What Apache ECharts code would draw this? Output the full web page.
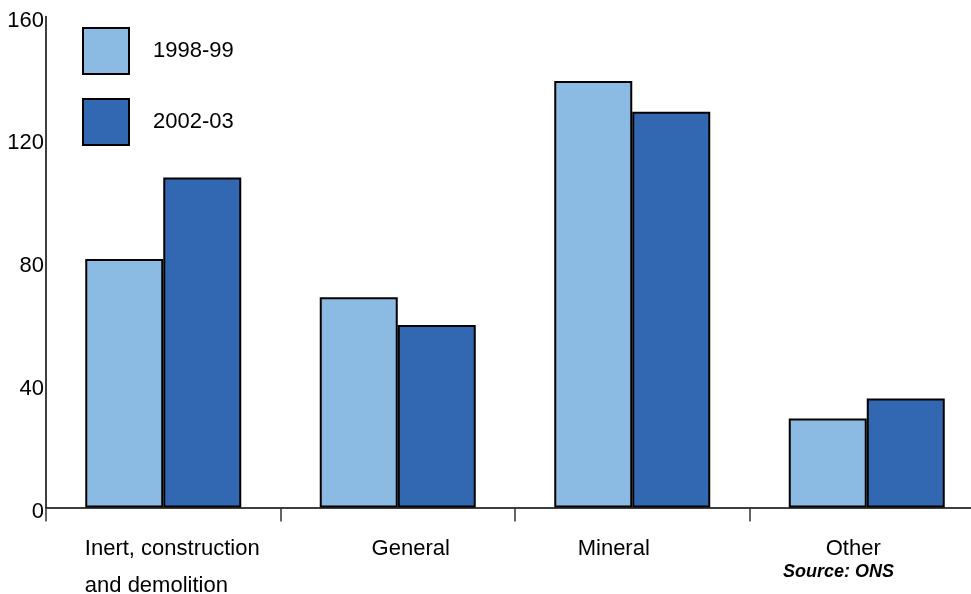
<!DOCTYPE html>
<html>
<head>
<meta charset="utf-8">
<script src="https://cdn.jsdelivr.net/npm/echarts@6/dist/echarts.min.js"></script>
<style>
  html, body { margin: 0; padding: 0; background: #ffffff; }
  #chart { width: 971px; height: 594px; }
</style>
</head>
<body>
<div id="chart"></div>
<script>
// Waste categories and the two survey periods
const categories = ['Inert, construction and demolition', 'General', 'Mineral', 'Other'];
const periods = ['1998-99', '2002-03'];
const values9899 = [81, 68.5, 139, 29];
const values0203 = [107.5, 59.5, 129, 35.5];
const yTicks = [0, 40, 80, 120, 160];
const sourceNote = 'Source: ONS';

const FONT = 'Liberation Sans, Arial, Helvetica, sans-serif';
const colors = ['#8bbbe3', '#3268b1'];

// rich-text style key per category label
const labelKeys = ['i', 'g', 'm', 'o'];

const chart = echarts.init(document.getElementById('chart'));

const barStyle = (c) => ({ color: c, borderColor: '#000', borderWidth: 2 });
const catText = (pad, align) => ({
  fontFamily: FONT, fontSize: 22, color: '#000', lineHeight: 37,
  padding: pad, align: align
});

chart.setOption({
  animation: false,
  backgroundColor: '#ffffff',
  title: {
    text: sourceNote,
    left: 783,
    top: 563,
    padding: 0,
    textStyle: { fontFamily: FONT, fontSize: 18, fontWeight: 'bold', fontStyle: 'italic', color: '#000' }
  },
  legend: {
    orient: 'vertical',
    left: 82,
    top: 27,
    padding: 0,
    itemWidth: 46,
    itemHeight: 46,
    itemGap: 23,
    icon: 'rect',
    data: periods,
    textStyle: { fontFamily: FONT, fontSize: 22, color: '#000', padding: [0, 0, 0, 19] }
  },
  grid: { left: 46, top: 16.5, width: 938, height: 491, outerBoundsMode: 'none' },
  xAxis: {
    type: 'category',
    data: categories,
    axisLine: { lineStyle: { color: '#000', width: 1.5 } },
    axisTick: { show: true, length: 14, lineStyle: { color: '#333', width: 1.5 } },
    axisLabel: {
      interval: 0,
      margin: 23,
      fontFamily: FONT,
      fontSize: 22,
      color: '#000',
      formatter: function (v, i) {
        if (i === 0) {
          const parts = v.split(' and ');
          return '{i|' + parts[0] + '}\n{i|and ' + parts[1] + '}';
        }
        return '{' + labelKeys[i] + '|' + v + '}';
      },
      rich: {
        i: catText([0, 0, 0, 18], 'left'),
        g: catText([0, 0, 0, 26]),
        m: catText([0, 37, 0, 0]),
        o: catText([0, 27, 0, 0])
      }
    },
    splitLine: { show: false }
  },
  yAxis: {
    type: 'value',
    min: yTicks[0],
    max: yTicks[yTicks.length - 1],
    interval: yTicks[1] - yTicks[0],
    axisLine: { show: true, lineStyle: { color: '#000', width: 1.5 } },
    axisTick: { show: false },
    splitLine: { show: false },
    axisLabel: {
      margin: 2,
      formatter: '{v|{value}}',
      rich: {
        v: { fontFamily: FONT, fontSize: 22, color: '#000', padding: [8, 0, 0, 0] }
      }
    }
  },
  series: [
    {
      name: periods[0],
      type: 'bar',
      data: values9899,
      barWidth: 78,
      barGap: '0%',
      itemStyle: barStyle(colors[0])
    },
    {
      name: periods[1],
      type: 'bar',
      data: values0203,
      barWidth: 78,
      barGap: '0%',
      itemStyle: barStyle(colors[1])
    }
  ]
});
</script>
</body>
</html>
